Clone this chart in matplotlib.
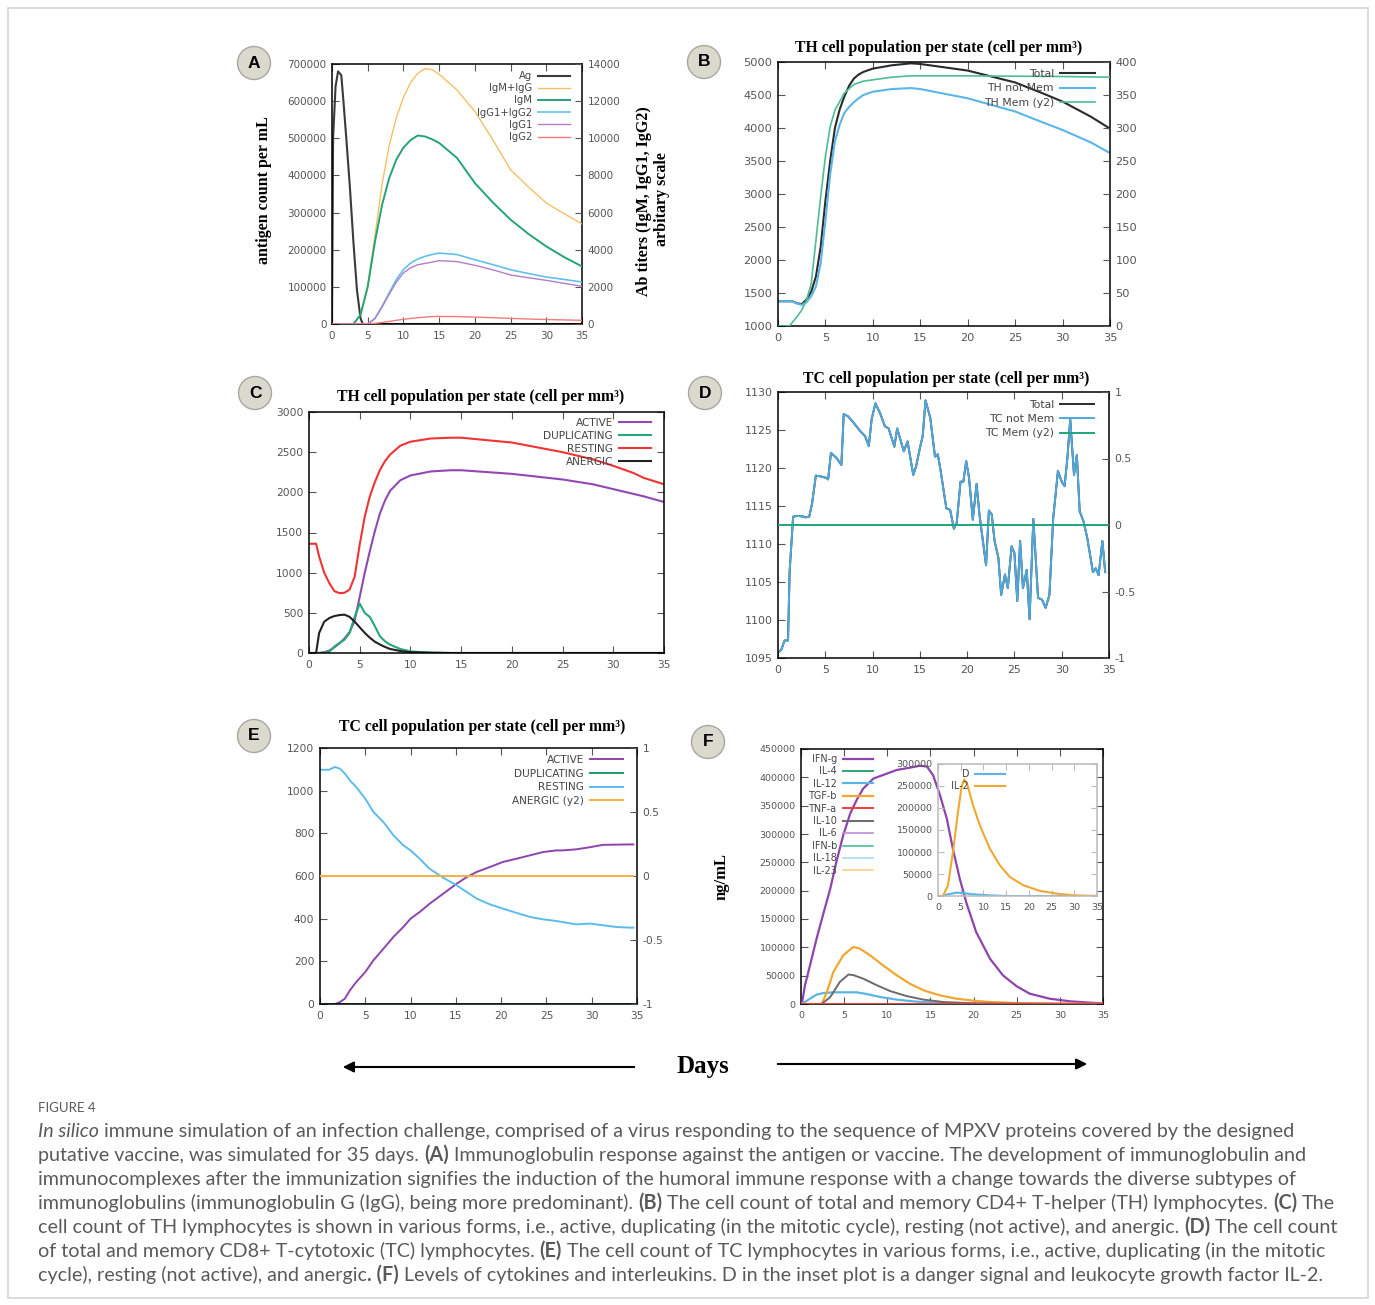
import matplotlib
matplotlib.use('Agg')
import matplotlib.pyplot as plt
from matplotlib.patches import Ellipse, Rectangle, FancyArrowPatch
from matplotlib.ticker import FuncFormatter

# ---------------- DATA ----------------
# Panel A
a_ag_days = [0, 0.15, 0.5, 0.85, 1.3, 1.6, 2.0, 2.5, 3.0, 3.5, 4.0, 4.3, 35]
a_ag = [0, 500000, 640000, 680000, 670000, 600000, 500000, 370000, 220000, 90000, 15000, 0, 0]
a_days = [0, 3, 4, 5, 6, 7, 8, 9, 10, 11, 12, 13, 14, 15, 17.5, 20, 22.5, 25, 27.5, 30, 32.5, 35]
a_igm_igg = [0, 0, 500, 2100, 4700, 7500, 9600, 11100, 12200, 13000, 13500, 13750, 13700, 13450, 12600, 11450, 9925, 8310, 7377, 6515, 5941, 5385]
a_igm = [0, 0, 500, 2000, 4400, 6400, 7850, 8850, 9500, 9900, 10150, 10100, 9950, 9750, 8940, 7590, 6550, 5620, 4850, 4180, 3600, 3100]
a_igg1_igg2 = [0, 0, 0, 0, 300, 950, 1670, 2390, 2930, 3280, 3500, 3640, 3740, 3820, 3740, 3460, 3200, 2920, 2720, 2530, 2400, 2260]
a_igg1 = [0, 0, 0, 0, 280, 900, 1600, 2250, 2750, 3030, 3190, 3260, 3330, 3410, 3360, 3160, 2920, 2640, 2490, 2350, 2190, 2030]
a_igg2 = [0, 0, 0, 0, 30, 80, 140, 200, 250, 300, 340, 370, 400, 410, 400, 370, 340, 300, 270, 240, 220, 200]

# Panel B
b_days = [0, 1.5, 2.0, 2.5, 3.0, 3.5, 4.0, 4.5, 5.0, 5.5, 6.0, 6.5, 7.0, 7.5, 8.0, 8.5, 9.0, 10, 12, 14, 15, 20, 25, 28, 30, 33, 35]
b_total = [1375, 1375, 1345, 1330, 1400, 1520, 1750, 2200, 2900, 3500, 4000, 4280, 4480, 4640, 4750, 4810, 4850, 4900, 4950, 4980, 4970, 4870, 4690, 4520, 4400, 4170, 3990]
b_not_mem = [1375, 1375, 1340, 1320, 1360, 1450, 1600, 1950, 2600, 3300, 3800, 4050, 4230, 4320, 4390, 4450, 4500, 4550, 4590, 4605, 4590, 4450, 4250, 4080, 3970, 3780, 3620]
b_mem_days = [0, 1.2, 2, 2.5, 3, 3.5, 4, 4.5, 5, 5.5, 6, 7, 8, 9, 10, 12, 14, 20, 30, 35]
b_mem = [0, 0, 14, 24, 39, 64, 130, 196, 257, 302, 327, 353, 366, 371, 373, 377, 379, 379, 378, 377]

# Panel C
c_days = [0, 0.7, 1.0, 1.5, 2.0, 2.5, 3.0, 3.5, 4.0, 4.5, 5.0, 5.5, 6.0, 6.5, 7.0, 7.5, 8.0, 9.0, 10, 12, 14, 15, 20, 25, 28, 30, 32, 33, 35]
c_active = [0, 0, 0, 10, 30, 70, 120, 180, 260, 400, 700, 1000, 1270, 1520, 1740, 1900, 2020, 2150, 2210, 2260, 2275, 2275, 2230, 2160, 2100, 2040, 1980, 1950, 1880]
c_duplicating = [0, 0, 0, 5, 15, 80, 125, 165, 250, 450, 615, 498, 448, 332, 207, 145, 104, 50, 20, 5, 0, 0, 0, 0, 0, 0, 0, 0, 0]
c_resting = [1360, 1360, 1200, 1000, 870, 770, 745, 750, 790, 950, 1350, 1700, 1950, 2130, 2280, 2390, 2470, 2580, 2630, 2670, 2680, 2680, 2620, 2500, 2410, 2330, 2240, 2180, 2100]
c_anergic = [0, 0, 250, 390, 435, 460, 472, 477, 450, 390, 320, 250, 190, 140, 105, 75, 50, 25, 10, 3, 0, 0, 0, 0, 0, 0, 0, 0, 0]

# Panel D
d_days = [0.07, 0.35, 0.7, 1.06, 1.23, 1.6, 2.1, 2.7, 2.9, 3.3, 3.6, 4.0, 4.5, 5.1, 5.3, 5.6, 6.2, 6.7, 6.95, 7.4,
          7.9, 8.6, 9.2, 9.6, 9.9, 10.3, 10.8, 11.3, 11.7, 12.3, 12.6, 13.3, 13.7, 14.3, 14.6, 15.0, 15.3, 15.6, 16.1, 16.6,
          16.9, 17.2, 17.8, 18.2, 18.6, 18.9, 19.3, 19.6, 19.9, 20.2, 20.6, 21.0, 21.3, 22.0, 22.3, 22.6, 22.9, 23.3, 23.6, 24.0,
          24.3, 24.7, 25.0, 25.3, 25.6, 25.9, 26.3, 26.6, 27.0, 27.5, 27.9, 28.3, 28.7, 29.1, 29.6, 30.0, 30.3, 30.6, 30.9, 31.3,
          31.6, 31.9, 32.3, 32.7, 33.3, 33.6, 33.9, 34.3, 34.6]
d_not_mem = [1095.8, 1096.1, 1097.3, 1097.3, 1106.4, 1113.6, 1113.7, 1113.6, 1113.5, 1113.6, 1115.3, 1119.0, 1118.9, 1118.7, 1118.5, 1122.0, 1121.3, 1120.4, 1127.1, 1126.8,
             1126.1, 1125.0, 1124.2, 1122.9, 1126.4, 1128.5, 1127.2, 1125.5, 1125.2, 1122.8, 1125.2, 1122.2, 1123.5, 1119.1, 1120.2, 1122.6, 1124.2, 1128.9, 1126.6, 1121.5,
             1121.8, 1119.6, 1114.7, 1114.5, 1112.0, 1112.8, 1118.2, 1118.2, 1120.9, 1118.7, 1113.2, 1117.9, 1113.9, 1107.2, 1114.4, 1113.9, 1110.4, 1108.2, 1103.3, 1106.0,
             1104.2, 1109.7, 1108.8, 1102.5, 1110.4, 1104.2, 1106.6, 1100.1, 1113.3, 1102.9, 1102.7, 1101.6, 1103.3, 1113.4, 1119.6, 1118.2, 1117.6, 1121.3, 1126.4, 1119.1,
             1121.7, 1114.3, 1113.0, 1110.8, 1106.3, 1106.8, 1105.9, 1110.4, 1106.3]
d_total = list(d_not_mem)
d_mem_days = [0, 35]
d_mem = [0, 0]

# Panel E
e_days = [0, 1.0, 1.65, 2.2, 2.75, 3.3, 4.0, 5.0, 5.9, 7.0, 8.1, 9.2, 10.0, 11.0, 12.1, 13.6, 15.1, 16.2, 17.3, 18.75,
          20.2, 21.7, 23.2, 24.6, 26.1, 26.8, 28.3, 29.8, 31.25, 32.7, 34.2, 34.6]
e_active = [0, 0, 0, 9, 25, 64, 103, 150, 205, 259, 314, 361, 400, 431, 470, 517, 564, 595, 619, 642,
            666, 681, 697, 712, 720, 720, 725, 735, 746, 747, 748, 748]
e_resting = [1098, 1098, 1111, 1103, 1080, 1048, 1017, 962, 900, 853, 791, 744, 720, 681, 634, 592, 556, 525, 494, 467,
             447, 427, 408, 397, 389, 384, 373, 377, 369, 361, 358, 358]
e_flat_days = [0, 34.6]
e_duplicating = [0, 0]
e_anergic = [0, 0]

# Panel F
f_ifng_days = [0.1, 0.46, 1.04, 1.8, 2.6, 3.4, 4.1, 4.9, 5.7, 6.45, 7.2, 8.4, 9.5, 11.1, 12.6, 13.8, 14.6, 15.3, 16.1, 16.9,
               17.6, 18.4, 19.2, 20.3, 21.9, 23.4, 25.0, 26.5, 28.8, 31.2, 33.5, 35]
f_ifng = [0, 33000, 68000, 115000, 160000, 204000, 251000, 298000, 336000, 360000, 380000, 398000, 404000, 413000, 417000, 420500, 419000, 404000, 369000, 327000,
          274000, 221000, 177000, 127000, 80000, 50600, 31200, 18300, 9400, 4700, 2400, 1200]
f_tgfb_days = [0, 2.4, 3.0, 3.75, 4.9, 6.06, 6.8, 8.0, 9.5, 11.1, 12.6, 14.2, 16.1, 18.0, 20.0, 21.9, 25.75, 29.6, 35]
f_tgfb = [0, 0, 21000, 56500, 86000, 100700, 97800, 86000, 68300, 50600, 35900, 24100, 15300, 9400, 5900, 3500, 1200, 600, 200]
f_il10_days = [0, 2.4, 3.4, 4.5, 5.5, 6.06, 7.2, 8.8, 10.3, 12.2, 14.2, 16.5, 20, 35]
f_il10 = [0, 0, 12400, 38900, 52000, 51000, 44800, 33000, 23000, 14100, 7700, 3500, 1200, 0]
f_il12_days = [0.1, 1.04, 1.8, 2.6, 3.75, 5.3, 6.45, 7.6, 9.15, 11.1, 13.4, 16.1, 20, 35]
f_il12 = [0, 9400, 16500, 19400, 20600, 20600, 20600, 17700, 12400, 7700, 4100, 1800, 600, 0]
f_flat_days = [0, 35]
f_zero = [0, 0]
f_il2_days = [0, 1.1, 2.2, 3.3, 4.4, 5.2, 5.75, 6.5, 7.7, 9.2, 11.4, 13.6, 15.8, 18.8, 22.5, 26.2, 29.8, 35]
f_il2 = [0, 0, 24300, 100300, 191400, 248300, 265000, 252000, 206600, 161000, 107800, 69900, 43300, 24300, 11400, 5300, 1500, 0]
f_d_days = [0, 1.0, 2.2, 4.05, 5.5, 7.7, 11.4, 15.1, 35]
f_d = [0, 0, 3800, 7600, 6800, 3800, 1500, 0, 0]

# ---------------- FIGURE ----------------
W, H = 1375, 1305
plt.rcParams['axes.unicode_minus'] = False
plt.rcParams['font.family'] = ['DejaVu Sans']
fig = plt.figure(figsize=(W / 100, H / 100), dpi=100)
fig.patch.set_facecolor('white')

TL = '#555555'
SERIF = 'Liberation Serif'


def px_axes(x0, y0, x1, y1):
    return fig.add_axes([x0 / W, 1 - y1 / H, (x1 - x0) / W, (y1 - y0) / H])


def fx(x):
    return x / W


def fy(y):
    return 1 - y / H


intfmt = FuncFormatter(lambda v, p: '%d' % round(v))


def style(ax, yticks, ylim, size, twin=False, spine_c='black'):
    ax.set_xlim(0, 35)
    ax.set_xticks(range(0, 36, 5))
    ax.set_ylim(*ylim)
    ax.set_yticks(yticks)
    ax.yaxis.set_major_formatter(intfmt)
    ax.set_facecolor('none')
    for s in ax.spines.values():
        s.set_color(spine_c)
        s.set_linewidth(1.1)
    ax.tick_params(direction='in', length=5, width=0.8, color='#555', labelcolor=TL,
                   labelsize=size, top=True, right=not twin, pad=4)
    ax.tick_params(axis='x', pad=5)


def style_twin(ax2, yticks, ylim, size, labels=None):
    ax2.set_ylim(*ylim)
    if labels is None:
        ax2.set_yticks(yticks)
        ax2.yaxis.set_major_formatter(intfmt)
    else:
        ax2.set_yticks(yticks, labels=labels)
    ax2.tick_params(direction='in', length=5, width=0.8, color='#555', labelcolor=TL,
                    labelsize=size, pad=4)
    for s in ax2.spines.values():
        s.set_visible(False)


def flegend(handles, labels, xr, yt, fs, pitch, hl_px, gap_px=6):
    fs_px = fs * 100 / 72
    fig.legend(handles, labels, loc='upper right', bbox_to_anchor=(fx(xr), fy(yt)),
               bbox_transform=fig.transFigure, frameon=False, markerfirst=False,
               borderpad=0, borderaxespad=0, handlelength=hl_px / fs_px,
               handletextpad=gap_px / fs_px,
               labelspacing=max(0.0, (pitch - 1.0 * fs_px) / fs_px),
               fontsize=fs, labelcolor='#444')


def circle_label(cx, cy, letter, r=16.5):
    e = Ellipse((fx(cx), fy(cy)), 2 * r / W, 2 * r / H, transform=fig.transFigure,
                facecolor='#d9d9cd', edgecolor='#a8a8a0', lw=1.0)
    fig.add_artist(e)
    fig.text(fx(cx), fy(cy), letter, ha='center', va='center', fontsize=12.5,
             fontweight='bold', family='Liberation Sans', color='black')


TITLE_FS = 11.3
YLAB_FS = 11.5

# ---------- Panel A ----------
axA = px_axes(332, 64, 582, 324)
style(axA, range(0, 700001, 100000), (0, 700000), 7.5, twin=True)
axA2 = axA.twinx()
style_twin(axA2, range(0, 14001, 2000), (0, 14000), 7.5)
la1, = axA.plot(a_ag_days, a_ag, color='#3a3a3a', lw=1.5)
la2, = axA2.plot(a_days, a_igm_igg, color='#f3c163', lw=1.0)
la3, = axA2.plot(a_days, a_igm, color='#23a473', lw=1.4)
la4, = axA2.plot(a_days, a_igg1_igg2, color='#62c0ee', lw=1.2)
la5, = axA2.plot(a_days, a_igg1, color='#b27ec8', lw=1.0)
la6, = axA2.plot(a_days, a_igg2, color='#f07a7a', lw=1.0)
flegend([la1, la2, la3, la4, la5, la6], ['Ag', 'IgM+IgG', 'IgM', 'IgG1+IgG2', 'IgG1', 'IgG2'],
        570, 71, 7.2, 12.2, 32)
fig.text(fx(264), fy(190), 'antigen count per mL', rotation=90, ha='center', va='center',
         family=SERIF, fontweight='bold', fontsize=YLAB_FS)
fig.text(fx(644), fy(201), 'Ab titers (IgM, IgG1, IgG2)', rotation=90, ha='center', va='center',
         family=SERIF, fontweight='bold', fontsize=YLAB_FS)
fig.text(fx(662), fy(199), 'arbitary scale', rotation=90, ha='center', va='center',
         family=SERIF, fontweight='bold', fontsize=YLAB_FS)

# ---------- Panel B ----------
axB = px_axes(778, 62, 1110, 326)
style(axB, range(1000, 5001, 500), (1000, 5000), 8.2, twin=True)
axB2 = axB.twinx()
style_twin(axB2, range(0, 401, 50), (0, 400), 8.2)
lb1, = axB.plot(b_days, b_total, color='#2b2b2b', lw=1.5)
lb2, = axB.plot(b_days, b_not_mem, color='#5ab6e8', lw=1.5)
lb3, = axB2.plot(b_mem_days, b_mem, color='#4cbf90', lw=1.2)
flegend([lb1, lb2, lb3], ['Total', 'TH not Mem', 'TH Mem (y2)'], 1095, 69, 7.8, 15.2, 35)
fig.text(fx(939), fy(48), 'TH cell population per state (cell per mm\u00b3)', ha='center', va='center',
         family=SERIF, fontweight='bold', fontsize=TITLE_FS)

# ---------- Panel C ----------
axC = px_axes(309, 412, 664, 653)
style(axC, range(0, 3001, 500), (0, 3000), 7.7)
lc1, = axC.plot(c_days, c_active, color='#9248b4', lw=1.5)
lc2, = axC.plot(c_days, c_duplicating, color='#24a878', lw=1.5)
lc3, = axC.plot(c_days, c_resting, color='#f03434', lw=1.5)
lc4, = axC.plot(c_days, c_anergic, color='#222222', lw=1.5)
flegend([lc1, lc2, lc3, lc4], ['ACTIVE', 'DUPLICATING', 'RESTING', 'ANERGIC'], 651, 418, 7.6, 13.6, 32)
fig.text(fx(481), fy(397), 'TH cell population per state (cell per mm\u00b3)', ha='center', va='center',
         family=SERIF, fontweight='bold', fontsize=TITLE_FS)

# ---------- Panel D ----------
axD = px_axes(778, 392, 1109, 658)
style(axD, range(1095, 1131, 5), (1095, 1130), 7.9, twin=True)
axD2 = axD.twinx()
style_twin(axD2, [-1, -0.5, 0, 0.5, 1], (-1, 1), 7.9, labels=['-1', '-0.5', '0', '0.5', '1'])
ld1, = axD.plot(d_days, d_total, color='#2b2b2b', lw=1.4)
ld2, = axD.plot(d_days, d_not_mem, color='#4fa8dc', lw=1.4)
ld3, = axD2.plot(d_mem_days, d_mem, color='#1fa67a', lw=1.4)
flegend([ld1, ld2, ld3], ['Total', 'TC not Mem', 'TC Mem (y2)'], 1094, 400, 7.8, 15, 34)
fig.text(fx(946), fy(379), 'TC cell population per state (cell per mm\u00b3)', ha='center', va='center',
         family=SERIF, fontweight='bold', fontsize=TITLE_FS)

# ---------- Panel E ----------
axE = px_axes(320, 748, 637, 1004)
style(axE, range(0, 1201, 200), (0, 1200), 7.7, twin=True)
axE2 = axE.twinx()
style_twin(axE2, [-1, -0.5, 0, 0.5, 1], (-1, 1), 7.7, labels=['-1', '-0.5', '0', '0.5', '1'])
le1, = axE.plot(e_days, e_active, color='#8e44ad', lw=1.4)
le2, = axE.plot(e_flat_days, e_duplicating, color='#1f9a66', lw=1.4)
le3, = axE.plot(e_days, e_resting, color='#5bbcec', lw=1.4)
le4, = axE2.plot(e_flat_days, e_anergic, color='#f2b240', lw=1.4)
flegend([le1, le2, le3, le4], ['ACTIVE', 'DUPLICATING', 'RESTING', 'ANERGIC (y2)'], 623, 755, 7.6, 14.2, 33)
fig.text(fx(482), fy(727), 'TC cell population per state (cell per mm\u00b3)', ha='center', va='center',
         family=SERIF, fontweight='bold', fontsize=TITLE_FS)

# ---------- Panel F ----------
axF = px_axes(801, 749, 1103, 1004)
style(axF, range(0, 450001, 50000), (0, 450000), 6.8)
f_series = [
    ('IFN-g', f_ifng_days, f_ifng, '#8e44ad', 1.6),
    ('IL-4', f_flat_days, f_zero, '#2aa876', 1.4),
    ('IL-12', f_il12_days, f_il12, '#5ab4e6', 1.6),
    ('TGF-b', f_tgfb_days, f_tgfb, '#f0a830', 1.6),
    ('TNF-a', f_flat_days, f_zero, '#f03c3c', 1.4),
    ('IL-10', f_il10_days, f_il10, '#6a6a6a', 1.4),
    ('IL-6', f_flat_days, f_zero, '#c08cd8', 1.2),
    ('IFN-b', f_flat_days, f_zero, '#48c090', 1.2),
    ('IL-18', f_flat_days, f_zero, '#a8dcf5', 1.2),
    ('IL-23', f_flat_days, f_zero, '#f8cf8a', 1.2),
]
f_handles = {}
for name, xs, ys, col, lw in f_series:
    ln, = axF.plot(xs, ys, color=col, lw=lw, zorder=3 if name != 'TNF-a' else 4)
    f_handles[name] = ln
names = [s[0] for s in f_series]
flegend([f_handles[n] for n in names], names, 873, 754, 6.9, 12, 30)
fig.text(fx(722), fy(877), 'ng/mL', rotation=90, ha='center', va='center',
         family=SERIF, fontweight='bold', fontsize=12)

axI = px_axes(938, 764, 1097, 896)
style(axI, range(0, 300001, 50000), (0, 300000), 6.8, spine_c='#bbbbbb')
axI.tick_params(color='#bbbbbb', length=4)
li1, = axI.plot(f_d_days, f_d, color='#5ab4e6', lw=1.5)
li2, = axI.plot(f_il2_days, f_il2, color='#f0a830', lw=1.5)
flegend([li1, li2], ['D', 'IL-2'], 1005, 769, 6.9, 12, 30)

# ---------- panel letters ----------
circle_label(254, 63, 'A')
circle_label(704, 62, 'B')
circle_label(255, 393, 'C')
circle_label(705, 393, 'D')
circle_label(254, 736, 'E')
circle_label(708, 742, 'F')

# ---------- Days arrows ----------
fig.text(fx(703), fy(1067), 'Days', ha='center', va='center', family=SERIF, fontweight='bold', fontsize=18)
for (x0, y0, x1, y1) in [(637, 1067, 340, 1067), (775, 1064, 1090, 1064)]:
    fig.add_artist(FancyArrowPatch((fx(x0), fy(y0)), (fx(x1), fy(y1)), transform=fig.transFigure,
                                   arrowstyle='-|>', mutation_scale=16, lw=1.5, color='black'))

# ---------- border ----------
fig.add_artist(Rectangle((fx(8), fy(1298)), (1368 - 8) / W, (1298 - 8) / H, transform=fig.transFigure,
                         facecolor='none', edgecolor='#d4d4d4', lw=1.2))

# ---------- caption ----------
CAP_FONT = 'Lato'
CAP_C = '#5a5a5a'
renderer = fig.canvas.get_renderer()


def tw(txt, size, style_='normal', weight='normal'):
    t = fig.text(0, 0, txt, fontsize=size, family=CAP_FONT, style=style_, weight=weight)
    w = t.get_window_extent(renderer=renderer).width
    t.remove()
    return w


N, B, I = ('normal', 'normal'), ('normal', 'bold'), ('italic', 'normal')
caption_lines = [
    [("In silico", I), (" immune simulation of an infection challenge, comprised of a virus responding to the sequence of MPXV proteins covered by the designed", N)],
    [("putative vaccine, was simulated for 35 days. ", N), ("(A)", B), (" Immunoglobulin response against the antigen or vaccine. The development of immunoglobulin and", N)],
    [("immunocomplexes after the immunization signifies the induction of the humoral immune response with a change towards the diverse subtypes of", N)],
    [("immunoglobulins (immunoglobulin G (IgG), being more predominant). ", N), ("(B)", B), (" The cell count of total and memory CD4+ T-helper (TH) lymphocytes. ", N), ("(C)", B), (" The", N)],
    [("cell count of TH lymphocytes is shown in various forms, i.e., active, duplicating (in the mitotic cycle), resting (not active), and anergic. ", N), ("(D)", B), (" The cell count", N)],
    [("of total and memory CD8+ T-cytotoxic (TC) lymphocytes. ", N), ("(E)", B), (" The cell count of TC lymphocytes in various forms, i.e., active, duplicating (in the mitotic", N)],
    [("cycle), resting (not active), and anergic", N), (". (F)", B), (" Levels of cytokines and interleukins. D in the inset plot is a danger signal and leukocyte growth factor IL-2.", N)],
]


def line_pieces(segs, size):
    sp = tw('a a', size) - tw('aa', size)
    pieces = []
    x = 0.0
    for txt, (st, wt) in segs:
        lead = len(txt) - len(txt.lstrip(' '))
        trail = len(txt) - len(txt.rstrip(' '))
        core = txt.strip(' ')
        x += lead * sp
        pieces.append((x, core, st, wt))
        x += tw(core, size, st, wt)
        x += trail * sp
    return pieces, x


base = 12.0
_, w4 = line_pieces(caption_lines[3], base)
cap_size = base * (1333 - 38) / w4
fig.text(fx(38), fy(1108), 'FIGURE 4', ha='left', va='center', family=CAP_FONT, fontsize=9.5, color=CAP_C)
for i, segs in enumerate(caption_lines):
    yb = 1131 + 24 * i + 6
    pieces, _ = line_pieces(segs, cap_size)
    for x, core, st, wt in pieces:
        fig.text(fx(38 + x), fy(yb), core, ha='left', va='baseline', family=CAP_FONT,
                 fontsize=cap_size, style=st, weight=wt, color=CAP_C)

fig.savefig('out.png', dpi=100, facecolor='white')
